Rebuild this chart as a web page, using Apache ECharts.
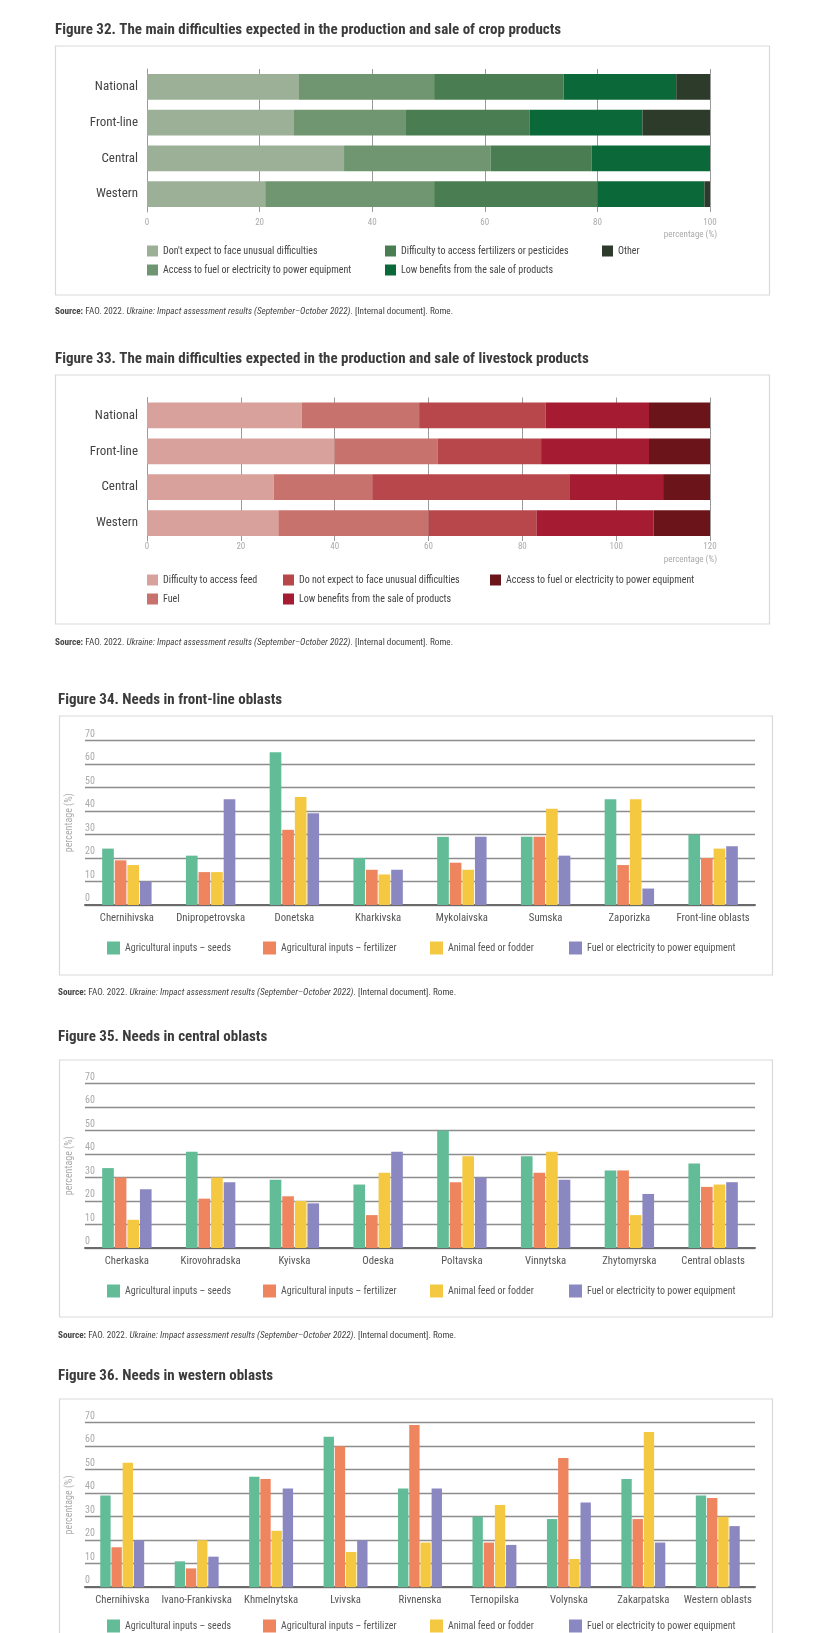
<!DOCTYPE html>
<html><head><meta charset="utf-8">
<script src="https://cdn.jsdelivr.net/npm/echarts@6/dist/echarts.min.js"></script>
<style>
html,body{margin:0;padding:0;background:#fff;width:830px;height:1633px;overflow:hidden}
.fig{position:absolute;left:0;width:830px}
</style></head><body>
<div id="f32" class="fig" style="top:0;height:330px"></div>
<div id="f33" class="fig" style="top:330px;height:330px"></div>
<div id="f34" class="fig" style="top:660px;height:350px"></div>
<div id="f35" class="fig" style="top:1010px;height:340px"></div>
<div id="f36" class="fig" style="top:1350px;height:283px"></div>
<script>
// ---------- DATA ----------
const cropCategories = ['National', 'Front-line', 'Central', 'Western'];
const cropNames = ["Don't expect to face unusual difficulties", 'Access to fuel or electricity to power equipment',
  'Difficulty to access fertilizers or pesticides', 'Low benefits from the sale of products', 'Other'];
const cropNoDifficulties = [27, 26, 35, 21];
const cropFuelAccess = [24, 20, 26, 30];
const cropFertilizerAccess = [23, 22, 18, 29];
const cropLowBenefits = [20, 20, 21, 19];
const cropOther = [6, 12, 0, 1];

const livestockCategories = ['National', 'Front-line', 'Central', 'Western'];
const livestockNames = ['Difficulty to access feed', 'Fuel', 'Do not expect to face unusual difficulties',
  'Low benefits from the sale of products', 'Access to fuel or electricity to power equipment'];
const lsFeed = [33, 40, 27, 28];
const lsFuel = [25, 22, 21, 32];
const lsNoDifficulties = [27, 22, 42, 23];
const lsLowBenefits = [22, 23, 20, 25];
const lsFuelAccess = [13, 13, 10, 12];

const needNames = ['Agricultural inputs – seeds', 'Agricultural inputs – fertilizer', 'Animal feed or fodder',
  'Fuel or electricity to power equipment'];

const frontOblasts = ['Chernihivska', 'Dnipropetrovska', 'Donetska', 'Kharkivska', 'Mykolaivska', 'Sumska', 'Zaporizka', 'Front-line oblasts'];
const frontSeeds = [24, 21, 65, 20, 29, 29, 45, 30];
const frontFertilizer = [19, 14, 32, 15, 18, 29, 17, 20];
const frontFeed = [17, 14, 46, 13, 15, 41, 45, 24];
const frontFuel = [10, 45, 39, 15, 29, 21, 7, 25];

const centralOblasts = ['Cherkaska', 'Kirovohradska', 'Kyivska', 'Odeska', 'Poltavska', 'Vinnytska', 'Zhytomyrska', 'Central oblasts'];
const centralSeeds = [34, 41, 29, 27, 50, 39, 33, 36];
const centralFertilizer = [30, 21, 22, 14, 28, 32, 33, 26];
const centralFeed = [12, 30, 20, 32, 39, 41, 14, 27];
const centralFuel = [25, 28, 19, 41, 30, 29, 23, 28];

const westernOblasts = ['Chernihivska', 'Ivano-Frankivska', 'Khmelnytska', 'Lvivska', 'Rivnenska', 'Ternopilska', 'Volynska', 'Zakarpatska', 'Western oblasts'];
const westernSeeds = [39, 11, 47, 64, 42, 30, 29, 46, 39];
const westernFertilizer = [17, 8, 46, 60, 69, 19, 55, 29, 38];
const westernFeed = [53, 20, 24, 15, 19, 35, 12, 66, 30];
const westernFuel = [20, 13, 42, 20, 42, 18, 36, 19, 26];

// ---------- STYLE ----------
const FONT = "'Liberation Sans Narrow','Roboto Condensed','Noto Sans',sans-serif";
const cropColors = ['#9cb098', '#6f9670', '#4a7e52', '#0b6839', '#2d3b2b'];
const lsColors = ['#d9a19c', '#c8726d', '#b8474b', '#a51b31', '#6b1419'];
const needColors = ['#62bc98', '#ef855f', '#f5c842', '#8b87c1'];
const SOURCE = '{b|Source:} FAO. 2022. {i|Ukraine: Impact assessment results (September–October 2022)}. [Internal document]. Rome.';

function titleComp(text, x, y) {
  return { text: text, left: x, top: y - 5, padding: 0,
    textStyle: { fontFamily: FONT, fontSize: 15, fontWeight: 'bold', color: '#3b3b3b' } };
}
function sourceComp(x, y) {
  const base = { fontFamily: FONT, fontSize: 9.2, color: '#444', fontWeight: 'normal' };
  return { text: SOURCE, left: x, top: y - 2, padding: 0,
    textStyle: Object.assign({}, base, { rich: {
      b: Object.assign({}, base, { fontWeight: 'bold' }),
      i: Object.assign({}, base, { fontStyle: 'italic' }) } }) };
}
function boxRect(x, y, w, h) {
  return { type: 'rect', shape: { x: x, y: y, width: w, height: h }, z: -10,
    style: { fill: 'none', stroke: '#d9d9d9', lineWidth: 1.2 } };
}

function stacked(id, off, o) {
  const chart = echarts.init(document.getElementById(id), null, { renderer: 'canvas' });
  const legends = o.legendCols.map(function (col) {
    return { orient: 'vertical', left: col.x, top: o.legendY - off - 4.5, itemWidth: 11, itemHeight: 11, itemGap: 8,
      icon: 'rect', selectedMode: false, padding: 0, data: col.names,
      textStyle: { fontFamily: FONT, fontSize: 10, color: '#444' } };
  });
  chart.setOption({
    animation: false,
    title: [titleComp(o.title, 55, o.titleY - off), sourceComp(55, o.sourceY - off)],
    graphic: [boxRect(55.5, o.boxY - off, 714, o.boxH),
      { type: 'text', x: 717, y: o.pctY - off, style: { text: 'percentage (%)', fill: '#aaa',
        font: '9px ' + FONT, align: 'right', verticalAlign: 'middle' } }],
    legend: legends,
    grid: { left: 147, width: 563, top: o.gridTop - off, height: o.gridH },
    xAxis: { type: 'value', min: 0, max: o.max, interval: 20,
      axisLine: { show: false }, axisTick: { show: false },
      axisLabel: { color: '#aaa', fontSize: 9, fontFamily: FONT, margin: o.labelMargin },
      splitLine: { show: true, lineStyle: { color: '#9a9a9a', width: 1 } } },
    yAxis: { type: 'category', inverse: true, data: o.cats,
      axisLine: { show: true, lineStyle: { color: '#9a9a9a', width: 1 } }, axisTick: { show: false },
      axisLabel: { color: '#444', fontSize: 13, fontFamily: FONT, margin: 9 } },
    series: o.series.map(function (s, i) {
      return { type: 'bar', name: s.name, stack: 'total', data: s.data, barCategoryGap: '28%',
        itemStyle: { color: s.color } };
    })
  });
}

function grouped(id, off, o) {
  const chart = echarts.init(document.getElementById(id), null, { renderer: 'canvas' });
  const lx = [107, 263, 430, 569];
  const legends = o.series.map(function (s, i) {
    return { left: lx[i], top: o.legendY - off - 6.5, itemWidth: 13, itemHeight: 13, icon: 'rect',
      selectedMode: false, padding: 0, data: [s.name],
      textStyle: { fontFamily: FONT, fontSize: 10, color: '#555' } };
  });
  chart.setOption({
    animation: false,
    title: o.sourceY ? [titleComp(o.title, 58, o.titleY - off), sourceComp(58, o.sourceY - off)]
                     : [titleComp(o.title, 58, o.titleY - off)],
    graphic: [boxRect(59.5, o.boxY - off, 713, o.boxH)],
    legend: legends,
    grid: { left: 85, width: 670, top: o.gridTop - off, height: 164.5 },
    xAxis: { type: 'category', data: o.cats,
      axisLine: { show: true, lineStyle: { color: '#6a6a6a', width: 2 } }, axisTick: { show: false },
      axisLabel: { color: '#555', fontSize: 10.7, fontFamily: FONT, margin: 8, interval: 0 } },
    yAxis: { type: 'value', min: 0, max: 70, interval: 10,
      name: 'percentage (%)', nameLocation: 'middle', nameRotate: 90, nameGap: 9,
      nameTextStyle: { color: '#aaa', fontSize: 10, fontFamily: FONT },
      axisLine: { show: false }, axisTick: { show: false },
      axisLabel: { inside: true, align: 'left', verticalAlign: 'bottom', margin: 0, padding: [0, 0, 1.5, 0],
        color: '#aaa', fontSize: 10, fontFamily: FONT },
      splitLine: { show: true, lineStyle: { color: '#8d8d8d', width: 1.3 } } },
    series: o.series.map(function (s) {
      return { type: 'bar', name: s.name, data: s.data, barGap: '8%', barCategoryGap: '41%',
        itemStyle: { color: s.color } };
    })
  });
}

stacked('f32', 0, {
  title: 'Figure 32. The main difficulties expected in the production and sale of crop products',
  titleY: 28, boxY: 46, boxH: 249, gridTop: 69, gridH: 143, max: 100, pctY: 235, labelMargin: 6,
  cats: cropCategories, legendY: 250, sourceY: 309,
  legendCols: [{ x: 147, names: [cropNames[0], cropNames[1]] }, { x: 385, names: [cropNames[2], cropNames[3]] },
    { x: 602, names: [cropNames[4]] }],
  series: [cropNoDifficulties, cropFuelAccess, cropFertilizerAccess, cropLowBenefits, cropOther]
    .map(function (d, i) { return { name: cropNames[i], data: d, color: cropColors[i] }; })
});

stacked('f33', 330, {
  title: 'Figure 33. The main difficulties expected in the production and sale of livestock products',
  titleY: 357, boxY: 375, boxH: 249, gridTop: 397.5, gridH: 143.5, max: 120, pctY: 560, labelMargin: 1,
  cats: livestockCategories, legendY: 579, sourceY: 640,
  legendCols: [{ x: 147, names: [livestockNames[0], livestockNames[1]] }, { x: 283, names: [livestockNames[2], livestockNames[3]] },
    { x: 490, names: [livestockNames[4]] }],
  series: [lsFeed, lsFuel, lsNoDifficulties, lsLowBenefits, lsFuelAccess]
    .map(function (d, i) { return { name: livestockNames[i], data: d, color: lsColors[i] }; })
});

grouped('f34', 660, {
  title: 'Figure 34. Needs in front-line oblasts', titleY: 698, boxY: 716, boxH: 259,
  gridTop: 740.5, cats: frontOblasts, legendY: 948, sourceY: 990,
  series: [frontSeeds, frontFertilizer, frontFeed, frontFuel]
    .map(function (d, i) { return { name: needNames[i], data: d, color: needColors[i] }; })
});

grouped('f35', 1010, {
  title: 'Figure 35. Needs in central oblasts', titleY: 1035, boxY: 1060, boxH: 257,
  gridTop: 1083.5, cats: centralOblasts, legendY: 1291, sourceY: 1333,
  series: [centralSeeds, centralFertilizer, centralFeed, centralFuel]
    .map(function (d, i) { return { name: needNames[i], data: d, color: needColors[i] }; })
});

grouped('f36', 1350, {
  title: 'Figure 36. Needs in western oblasts', titleY: 1374, boxY: 1399, boxH: 300,
  gridTop: 1422.7, cats: westernOblasts, legendY: 1626, sourceY: null,
  series: [westernSeeds, westernFertilizer, westernFeed, westernFuel]
    .map(function (d, i) { return { name: needNames[i], data: d, color: needColors[i] }; })
});
</script>
</body></html>
